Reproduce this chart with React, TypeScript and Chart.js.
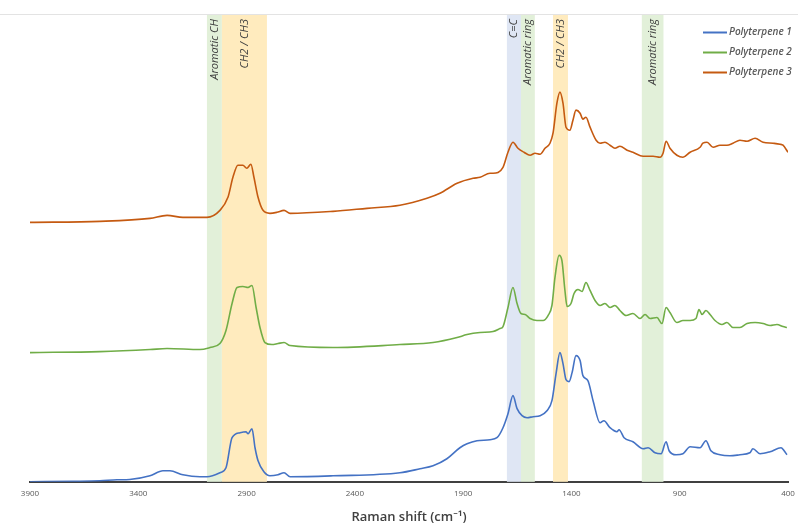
import React, { useEffect, useRef } from "react";
import { Chart, registerables } from "chart.js";

Chart.register(...registerables);

// ---- Data (Raman shift in cm-1, intensity in arbitrary units) ----
const p1Wave = [3900, 3700, 3577, 3498, 3440, 3346, 3286, 3254, 3194, 3115, 3083, 3023, 2995, 2967, 2930, 2903, 2893, 2875, 2861, 2847, 2820, 2792, 2755, 2727, 2699, 2501, 2192, 2099, 2039, 1975, 1915, 1882, 1836, 1776, 1744, 1716, 1693, 1670, 1651, 1628, 1605, 1577, 1545, 1513, 1490, 1471, 1453, 1439, 1425, 1411, 1397, 1379, 1360, 1347, 1324, 1300, 1268, 1250, 1222, 1190, 1180, 1157, 1116, 1069, 1046, 1014, 986, 963, 949, 917, 885, 852, 806, 779, 756, 714, 668, 622, 576, 562, 529, 483, 432, 418, 405];
const p1Int = [0, 0.5, 1, 2, 2.3, 6, 11, 11, 7, 5, 5, 9, 14, 44, 49, 50, 48, 53, 34, 21, 10, 6, 7, 9, 5, 6, 9, 13, 16, 23, 34, 38, 41, 42, 44, 54, 68, 86, 73, 66, 64, 65, 66, 71, 81, 108, 129, 118, 102, 100, 109, 126, 121, 106, 101, 81, 59, 61, 54, 50, 52, 44, 40, 33, 34, 29, 28, 40, 31, 27, 28, 35, 34, 41, 31, 27, 26, 27, 29, 33, 28, 30, 34, 31, 27];

const p2Wave = [3900, 3577, 3346, 3267, 3115, 3069, 3023, 2995, 2967, 2944, 2917, 2893, 2875, 2856, 2838, 2815, 2783, 2755, 2727, 2699, 2501, 2192, 2039, 1928, 1882, 1822, 1762, 1730, 1716, 1693, 1670, 1651, 1633, 1614, 1591, 1559, 1531, 1508, 1490, 1476, 1457, 1444, 1430, 1420, 1402, 1388, 1370, 1351, 1333, 1314, 1291, 1268, 1245, 1222, 1199, 1176, 1148, 1116, 1083, 1060, 1037, 1005, 982, 963, 945, 913, 885, 852, 825, 811, 797, 779, 760, 737, 705, 682, 654, 622, 589, 552, 515, 483, 451, 423, 405];
const p2Int = [129, 130, 132, 133, 132, 134, 138, 151, 178, 194, 195, 194, 196, 174, 154, 139, 137, 138, 139, 136, 134, 137, 139, 144, 147, 149, 150, 153, 155, 174, 194, 178, 168, 167, 163, 161, 161, 166, 176, 204, 226, 221, 191, 175, 178, 188, 192, 190, 199, 191, 181, 176, 178, 174, 176, 171, 166, 168, 163, 167, 163, 164, 158, 174, 169, 159, 161, 161, 163, 172, 167, 171, 167, 161, 157, 159, 154, 154, 158, 159, 158, 156, 157, 155, 154];

const p3Wave = [3900, 3577, 3346, 3267, 3194, 3083, 3023, 2986, 2963, 2940, 2917, 2899, 2880, 2866, 2847, 2824, 2792, 2760, 2727, 2699, 2501, 2344, 2192, 2067, 2007, 1928, 1854, 1822, 1776, 1762, 1716, 1693, 1670, 1647, 1619, 1591, 1568, 1545, 1522, 1499, 1485, 1467, 1453, 1439, 1425, 1407, 1393, 1379, 1360, 1347, 1333, 1314, 1286, 1268, 1245, 1222, 1199, 1176, 1143, 1116, 1069, 1023, 991, 977, 963, 945, 913, 885, 852, 806, 793, 774, 746, 714, 682, 654, 622, 589, 552, 515, 469, 437, 423, 400];
const p3Int = [259, 260, 263, 266, 264, 264, 271, 284, 304, 316, 316, 313, 317, 304, 284, 271, 268, 269, 271, 268, 270, 273, 276, 283, 288, 298, 303, 304, 308, 308, 314, 329, 339, 333, 329, 326, 328, 327, 333, 338, 348, 378, 389, 378, 354, 351, 361, 371, 368, 362, 364, 354, 341, 338, 339, 336, 333, 335, 331, 329, 325, 325, 324, 328, 340, 333, 326, 324, 329, 334, 338, 339, 334, 336, 336, 338, 341, 340, 343, 339, 338, 337, 336, 329];

const seriesLabels = ["Polyterpene 1", "Polyterpene 2", "Polyterpene 3"];
const tickValues = [3900, 3400, 2900, 2400, 1900, 1400, 900, 400];

const bandStart = [3083, 3014, 1698, 1633, 1485, 1075];
const bandEnd = [3014, 2806, 1633, 1569, 1416, 975];
const bandLabels = ["Aromatic CH", "CH2 / CH3", "C=C", "Aromatic ring", "CH2 / CH3", "Aromatic ring"];

// ---- Styles ----
const seriesColors = ["#4472C4", "#70AD47", "#C55A11"];
const bandColors = ["#E2F0D9", "#FFEBBE", "#DFE6F4", "#E2F0D9", "#FFEBBE", "#E2F0D9"];
const FONT = "'Open Sans', 'Noto Sans', sans-serif";

const toPoints = (w: number[], v: number[]) => w.map((x, i) => ({ x, y: v[i] }));

const bandsPlugin = {
  id: "bands",
  beforeDatasetsDraw(chart: any) {
    const { ctx, chartArea, scales } = chart;
    const xs = scales.x;
    ctx.save();
    ctx.strokeStyle = "#E3E3E3";
    ctx.lineWidth = 1;
    ctx.beginPath();
    ctx.moveTo(0, chartArea.top + 0.5);
    ctx.lineTo(chart.width, chartArea.top + 0.5);
    ctx.stroke();
    for (let i = 0; i < bandStart.length; i++) {
      const x1 = xs.getPixelForValue(bandStart[i]);
      const x2 = xs.getPixelForValue(bandEnd[i]);
      ctx.fillStyle = bandColors[i];
      ctx.fillRect(Math.min(x1, x2), chartArea.top + 1, Math.abs(x2 - x1), chartArea.bottom - chartArea.top - 1);
    }
    ctx.fillStyle = "#404040";
    ctx.font = `italic 11px ${FONT}`;
    ctx.textAlign = "right";
    ctx.textBaseline = "middle";
    for (let i = 0; i < bandStart.length; i++) {
      const cx = (xs.getPixelForValue(bandStart[i]) + xs.getPixelForValue(bandEnd[i])) / 2;
      ctx.save();
      ctx.translate(cx, chartArea.top + 5);
      ctx.rotate(-Math.PI / 2);
      ctx.fillText(bandLabels[i], 0, 0);
      ctx.restore();
    }
    ctx.restore();
  },
};

const legendPlugin = {
  id: "customLegend",
  afterDraw(chart: any) {
    const { ctx } = chart;
    ctx.save();
    ctx.font = `italic 600 10px ${FONT}`;
    ctx.textAlign = "left";
    ctx.textBaseline = "middle";
    chart.data.datasets.forEach((ds: any, i: number) => {
      const y = 32.5 + i * 20;
      ctx.strokeStyle = ds.borderColor;
      ctx.lineWidth = 2;
      ctx.beginPath();
      ctx.moveTo(703, y);
      ctx.lineTo(727, y);
      ctx.stroke();
      ctx.fillStyle = "#595959";
      ctx.fillText(ds.label, 729, y);
    });
    ctx.restore();
  },
};

export default function App() {
  const ref = useRef<HTMLCanvasElement>(null);
  useEffect(() => {
    if (!ref.current) return;
    const series = [toPoints(p1Wave, p1Int), toPoints(p2Wave, p2Int), toPoints(p3Wave, p3Int)];
    const chart = new Chart(ref.current, {
      type: "line",
      data: {
        datasets: series.map((d, i) => ({
          label: seriesLabels[i],
          data: d,
          borderColor: seriesColors[i],
          backgroundColor: seriesColors[i],
          borderWidth: 1.6,
          pointRadius: 0,
          cubicInterpolationMode: "monotone" as const,
          fill: false,
        })),
      },
      options: {
        animation: false,
        responsive: true,
        maintainAspectRatio: false,
        layout: { padding: { left: 30, right: 10, top: 14, bottom: 4 } },
        plugins: { legend: { display: false }, tooltip: { enabled: false } },
        scales: {
          x: {
            type: "linear",
            reverse: true,
            min: 400,
            max: 3900,
            afterBuildTicks: (axis: any) => {
              axis.ticks = tickValues.map((v) => ({ value: v }));
            },
            afterFit: (axis: any) => {
              axis.paddingLeft = 0;
              axis.paddingRight = 0;
            },
            grid: { display: false, drawTicks: false },
            border: { display: true, color: "#404040", width: 2 },
            ticks: {
              color: "#595959",
              font: { family: FONT, size: 8 },
              padding: 7,
              maxRotation: 0,
              autoSkip: false,
              callback: (v: any) => String(v),
            },
            title: {
              display: true,
              text: "Raman shift (cm⁻¹)",
              color: "#404040",
              font: { family: FONT, size: 13, weight: 600 },
              padding: { top: 4, bottom: 0 },
            },
          },
          y: { display: false, min: 0, max: 467 },
        },
      },
      plugins: [bandsPlugin, legendPlugin],
    });
    return () => chart.destroy();
  }, []);
  return (
    <div style={{ position: "fixed", left: 0, top: 0, width: 798, height: 529, background: "#fff" }}>
      <canvas ref={ref} />
    </div>
  );
}
